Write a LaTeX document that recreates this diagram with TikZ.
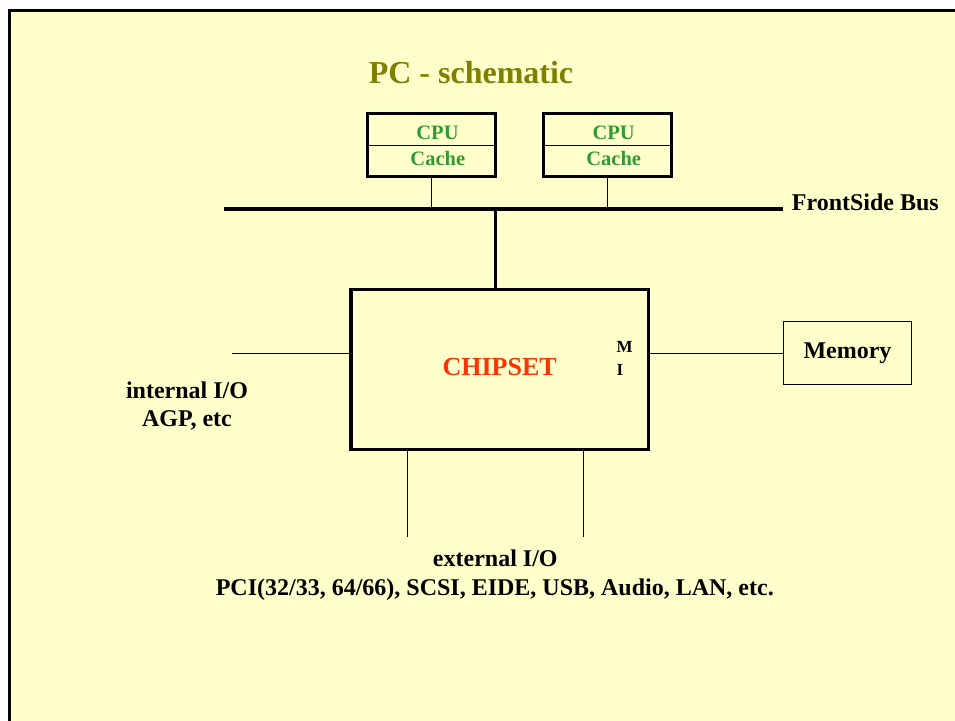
\documentclass[tikz,border=0pt]{standalone}
\usepackage{fontspec}
\setmainfont{Liberation Serif}
\definecolor{bgyellow}{HTML}{FFFFCC}
\definecolor{titleolive}{HTML}{808000}
\definecolor{cpugreen}{HTML}{339933}
\definecolor{chipred}{HTML}{FF3300}
\newcommand{\pxsize}[1]{\fontsize{#1}{#1}\selectfont}
\tikzset{
  txt/.style={inner sep=0pt, font=\bfseries\pxsize{24}, anchor=base},
  cpubox/.style={draw, line width=3.3pt, minimum width=127.6pt, minimum height=62.6pt, inner sep=0pt},
  cputxt/.style={inner sep=0pt, font=\bfseries\pxsize{20.5}, text=cpugreen, anchor=base},
  thin/.style={line width=1pt},
}
\begin{document}
\begin{tikzpicture}[x=1pt,y=-1pt]
\useasboundingbox (0,0) rectangle (955,720);
\fill[white] (0,0) rectangle (955,720);
\clip (0,0) rectangle (955,720);
\draw[line width=3pt, fill=bgyellow] (9,10.5) rectangle (975,740);

% title
\node[txt, font=\bfseries\pxsize{32}, text=titleolive] (title) at (471,83.3) {PC - schematic};

% CPU boxes
\node[cpubox] (cpu1) at (431.5,145) {};
\node[cpubox] (cpu2) at (607.5,145) {};
\draw[thin] (cpu1.west) -- (cpu1.east);
\draw[thin] (cpu2.west) -- (cpu2.east);
\node[cputxt] (cpu1a) at (437.5,139.3) {CPU};
\node[cputxt] (cpu1b) at (437.8,165) {Cache};
\node[cputxt] (cpu2a) at (613.7,139.3) {CPU};
\node[cputxt] (cpu2b) at (613.7,165) {Cache};

% front side bus
\coordinate (busL) at (224,208.5);
\coordinate (busR) at (783,208.5);
\draw[line width=4pt] (busL) -- (busR);
\node[txt, anchor=base west] (fsb) at (791.7,210) {FrontSide Bus};
\draw[thin] (cpu1.south) -- (cpu1.south |- busL);
\draw[thin] (cpu2.south) -- (cpu2.south |- busL);

% chipset
\node[draw, line width=3.5pt, minimum width=297.5pt, minimum height=160pt, inner sep=0pt] (chip) at (499.7,369.7) {};
\coordinate (busdrop) at (495.5,208.5);
\draw[line width=3pt] (busdrop) -- (busdrop |- chip.north);
\node[txt, font=\bfseries\pxsize{26}, text=chipred] (chiptxt) at (499.7,375) {CHIPSET};
\node[txt, font=\bfseries\pxsize{17}, anchor=base west] (mi1) at (616.5,352) {M};
\node[txt, font=\bfseries\pxsize{17}, anchor=base west] (mi2) at (616.5,375) {I};

% memory
\node[draw, thin, minimum width=128pt, minimum height=63pt, inner sep=0pt, font=\bfseries\pxsize{24}] (mem) at (847.5,353) {Memory};
\draw[thin] (chip.east |- mem.west) -- (mem.west);

% internal I/O
\coordinate (iio) at (231.5,353);
\draw[thin] (iio) -- (iio -| chip.west);
\node[txt] (iio1) at (187,398.3) {internal I/O};
\node[txt] (iio2) at (187,426) {AGP, etc};

% external I/O
\coordinate (ex1) at (407.7,537);
\coordinate (ex2) at (583.7,537);
\draw[thin] (ex1 |- chip.south) -- (ex1);
\draw[thin] (ex2 |- chip.south) -- (ex2);
\node[txt] (eio1) at (495.3,566) {external I/O};
\node[txt] (eio2) at (494.8,595) {PCI(32/33, 64/66), SCSI, EIDE, USB, Audio, LAN, etc.};
\end{tikzpicture}
\end{document}
